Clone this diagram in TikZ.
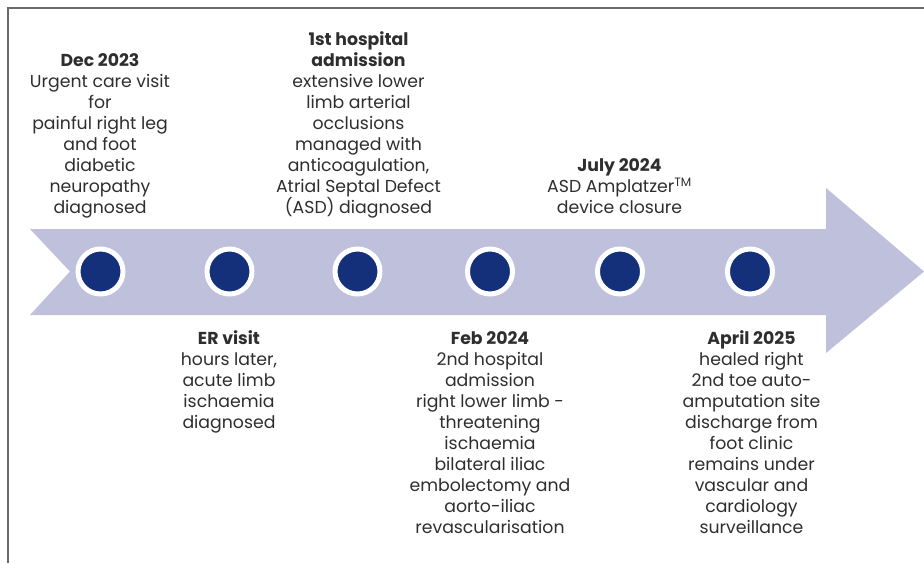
\documentclass[tikz,border=0pt]{standalone}
\usepackage{fontspec}
\setmainfont{Poppins}
\definecolor{framegray}{HTML}{6A6A6A}
\definecolor{bandblue}{HTML}{BEC0DC}
\definecolor{dotnavy}{HTML}{15307A}
\definecolor{inkgray}{HTML}{2E2E2E}
\tikzset{
  frameline/.style={draw=framegray, line width=2pt},
  band/.style={fill=bandblue, draw=none},
  eventdot/.style={circle, fill=dotnavy, draw=white, line width=5pt,
    minimum size=45pt, inner sep=0pt},
  eventtext/.style={align=center, inner sep=0pt, text=inkgray,
    font=\fontsize{17.3}{21}\selectfont},
  above/.style={eventtext, anchor=south},
  below/.style={eventtext, anchor=north},
}
\begin{document}
\begin{tikzpicture}[x=1pt, y=-1pt]
  \useasboundingbox (0,0) rectangle (924,563);

  % frame corner
  \coordinate (fc) at (8,8);
  \coordinate (fr) at (924,8);
  \coordinate (fb) at (8,563);
  \draw[frameline] (fr) -- (fc) -- (fb);

  % timeline arrow band
  \path[band] (30,229) -- (826,229) -- (826,188) -- (924,271.5)
    -- (826,353) -- (826,315) -- (30,315) -- (70,271.5) -- cycle;

  % event markers
  \node[eventdot] (d1) at (100.5,271.5) {};
  \node[eventdot] (d2) at (229.5,271.5) {};
  \node[eventdot] (d3) at (357.5,271.5) {};
  \node[eventdot] (d4) at (490,271.5) {};
  \node[eventdot] (d5) at (620,271.5) {};
  \node[eventdot] (d6) at (750,271.5) {};

  % event descriptions above the band
  \node[above] (t1) at (100,220.3) {\textbf{Dec 2023}\\Urgent care visit\\for\\painful right leg\\and foot\\diabetic\\neuropathy\\diagnosed\strut};
  \node[above] (t3) at (358.5,220.3) {\textbf{1st hospital}\\\textbf{admission}\\extensive lower\\limb arterial\\occlusions\\managed with\\anticoagulation,\\Atrial Septal Defect\\(ASD) diagnosed\strut};
  \node[above] (t5) at (619.5,220.3) {\textbf{July 2024}\\ASD Amplatzer\textsuperscript{TM}\\device closure\strut};

  % event descriptions below the band
  \node[below] (t2) at (229,329.3) {\strut\textbf{ER visit}\\hours later,\\acute limb\\ischaemia\\diagnosed};
  \node[below] (t4) at (490,329.3) {\strut\textbf{Feb 2024}\\2nd hospital\\admission\\right lower limb -\\threatening\\ischaemia\\bilateral iliac\\embolectomy and\\aorto-iliac\\revascularisation};
  \node[below] (t6) at (751.5,329.3) {\strut\textbf{April 2025}\\healed right\\2nd toe auto-\\amputation site\\discharge from\\foot clinic\\remains under\\vascular and\\cardiology\\surveillance};
\end{tikzpicture}
\end{document}
